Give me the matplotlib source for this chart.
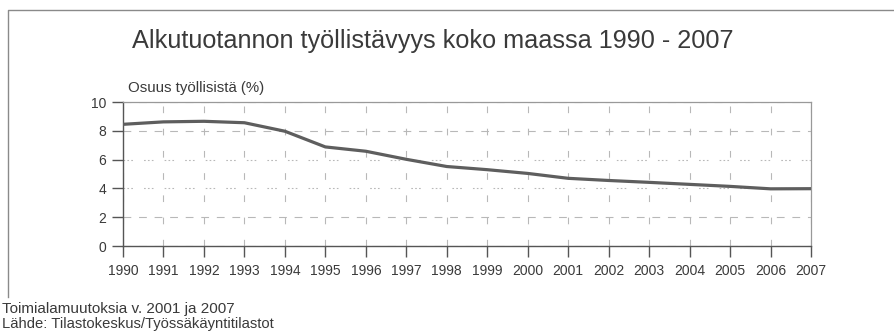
import numpy as np
import matplotlib.pyplot as plt
from matplotlib.lines import Line2D

plt.rcParams['font.family'] = ['Liberation Sans', 'DejaVu Sans']

years = list(range(1990, 2008))
share = [8.45, 8.62, 8.66, 8.56, 7.97, 6.88, 6.58, 6.02, 5.52, 5.30,
         5.04, 4.70, 4.55, 4.42, 4.28, 4.14, 3.97, 3.98]
y_ticks = [0, 2, 4, 6, 8, 10]

title = 'Alkutuotannon työllistävyys koko maassa 1990 - 2007'
y_title = 'Osuus työllisistä (%)'
notes = ['Toimialamuutoksia v. 2001 ja 2007',
         'Lähde: Tilastokeskus/Työssäkäyntitilastot']

txt = '#3a3a3a'
grid = '#b8b8b8'

fig = plt.figure(figsize=(8.94, 3.32), dpi=100)
ax = fig.add_axes([123 / 894, 1 - 246 / 332, (811 - 123) / 894, (246 - 102) / 332])

ax.plot(years, share, color='#5e5e5e', lw=2.3, solid_capstyle='round', zorder=3)

ax.set_xlim(years[0], years[-1])
ax.set_ylim(0, 10)
ax.set_xticks(years)
ax.set_yticks(y_ticks)
ax.tick_params(axis='both', direction='out', length=8, width=1, colors='#555555',
               labelcolor=txt, labelsize=10)
ax.tick_params(axis='y', pad=4)
ax.tick_params(axis='x', pad=5)

ax.xaxis.grid(True, color=grid, lw=0.8, dashes=(6, 14))
ax.yaxis.grid(True, color=grid, lw=0.8)
for i, gl in enumerate(ax.yaxis.get_gridlines()):
    if y_ticks[i] in (4, 6):
        gl.set_dashes((1.5, 2, 1.5, 2, 1.5, 10))
    else:
        gl.set_dashes((7, 7))
ax.set_axisbelow(True)

for side in ('top', 'right'):
    ax.spines[side].set_color('#999999')
    ax.spines[side].set_linewidth(0.9)
for side in ('left', 'bottom'):
    ax.spines[side].set_color('#555555')
    ax.spines[side].set_linewidth(1.0)

fig.text(433 / 894, 1 - 41 / 332, title, ha='center', va='center',
         fontsize=18.2, color=txt)
fig.text(128 / 894, 1 - 88 / 332, y_title, ha='left', va='center',
         fontsize=10.8, color=txt)
fig.text(2 / 894, 1 - 309 / 332, notes[0], ha='left', va='center',
         fontsize=11, color=txt)
fig.text(2 / 894, 1 - 324 / 332, notes[1], ha='left', va='center',
         fontsize=10.6, color=txt)

# frame around the chart (top and left edges visible)
fig.add_artist(Line2D([8 / 894, 8 / 894, 1], [1 - 297 / 332, 1 - 10 / 332, 1 - 10 / 332],
                      transform=fig.transFigure, color='#8a8a8a', lw=1.0))

fig.savefig('out.png', dpi=100)
